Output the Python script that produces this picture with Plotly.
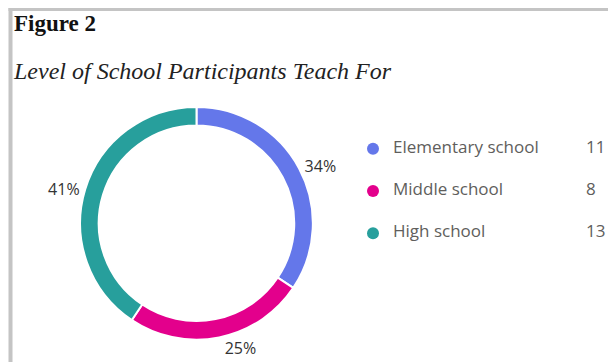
import plotly.graph_objects as go

# Survey data: level of school each participant teaches for
levels = ["Elementary school", "Middle school", "High school"]
counts = [11, 8, 13]
colors = ["#6477EA", "#E3008C", "#279F9C"]

W, H = 608, 364

fig = go.Figure()

# Donut chart with percentage labels outside each slice
fig.add_trace(go.Pie(
    labels=levels,
    values=counts,
    hole=0.84,
    sort=False,
    direction="clockwise",
    rotation=0,
    marker=dict(colors=colors, line=dict(color="white", width=2)),
    texttemplate="%{percent:.0%}",
    textposition="outside",
    textfont=dict(family="Open Sans", size=16, color="#333333"),
    domain=dict(x=[79.5 / W, 313.5 / W], y=[22.5 / H, 256.5 / H]),
    showlegend=False,
    hoverinfo="label+value+percent",
))

# Custom legend: colour dot, category name and count on each row
rows = list(range(len(levels)))
fig.add_trace(go.Scatter(
    x=[373] * len(levels), y=rows, mode="markers",
    marker=dict(color=colors, size=12),
    showlegend=False, hoverinfo="skip", cliponaxis=False,
))
fig.add_trace(go.Scatter(
    x=[393] * len(levels), y=rows, mode="text", text=levels,
    textposition="middle right",
    textfont=dict(family="Open Sans", size=17, color="#605E5C"),
    showlegend=False, hoverinfo="skip", cliponaxis=False,
))
fig.add_trace(go.Scatter(
    x=[586] * len(levels), y=rows, mode="text", text=[str(c) for c in counts],
    textposition="middle right",
    textfont=dict(family="Open Sans", size=17, color="#605E5C"),
    showlegend=False, hoverinfo="skip", cliponaxis=False,
))

row_px = 42.5
top_px = 149.5
y_top = -top_px / row_px
y_bot = y_top + H / row_px

fig.update_layout(
    width=W, height=H,
    margin=dict(l=0, r=0, t=0, b=0),
    paper_bgcolor="white", plot_bgcolor="rgba(0,0,0,0)",
    xaxis=dict(range=[0, W], visible=False, fixedrange=True, domain=[0, 1]),
    yaxis=dict(range=[y_bot, y_top], visible=False, fixedrange=True, domain=[0, 1]),
    annotations=[
        dict(text="<b>Figure 2</b>", x=12 / W, y=1 - 24 / H, xref="paper", yref="paper",
             xanchor="left", yanchor="middle", showarrow=False,
             font=dict(family="Liberation Serif", size=23, color="#111111")),
        dict(text="<i>Level of School Participants Teach For</i>", x=11 / W, y=1 - 71 / H,
             xref="paper", yref="paper", xanchor="left", yanchor="middle", showarrow=False,
             font=dict(family="Liberation Serif", size=24, color="#222222")),
    ],
    shapes=[
        dict(type="line", xref="paper", yref="paper", x0=10.5 / W, x1=10.5 / W,
             y0=0, y1=1 - 8 / H, line=dict(color="#C4C4C4", width=4)),
        dict(type="line", xref="paper", yref="paper", x0=8.5 / W, x1=1,
             y0=1 - 9.5 / H, y1=1 - 9.5 / H, line=dict(color="#C4C4C4", width=3)),
    ],
)

fig.write_html("out.html")
